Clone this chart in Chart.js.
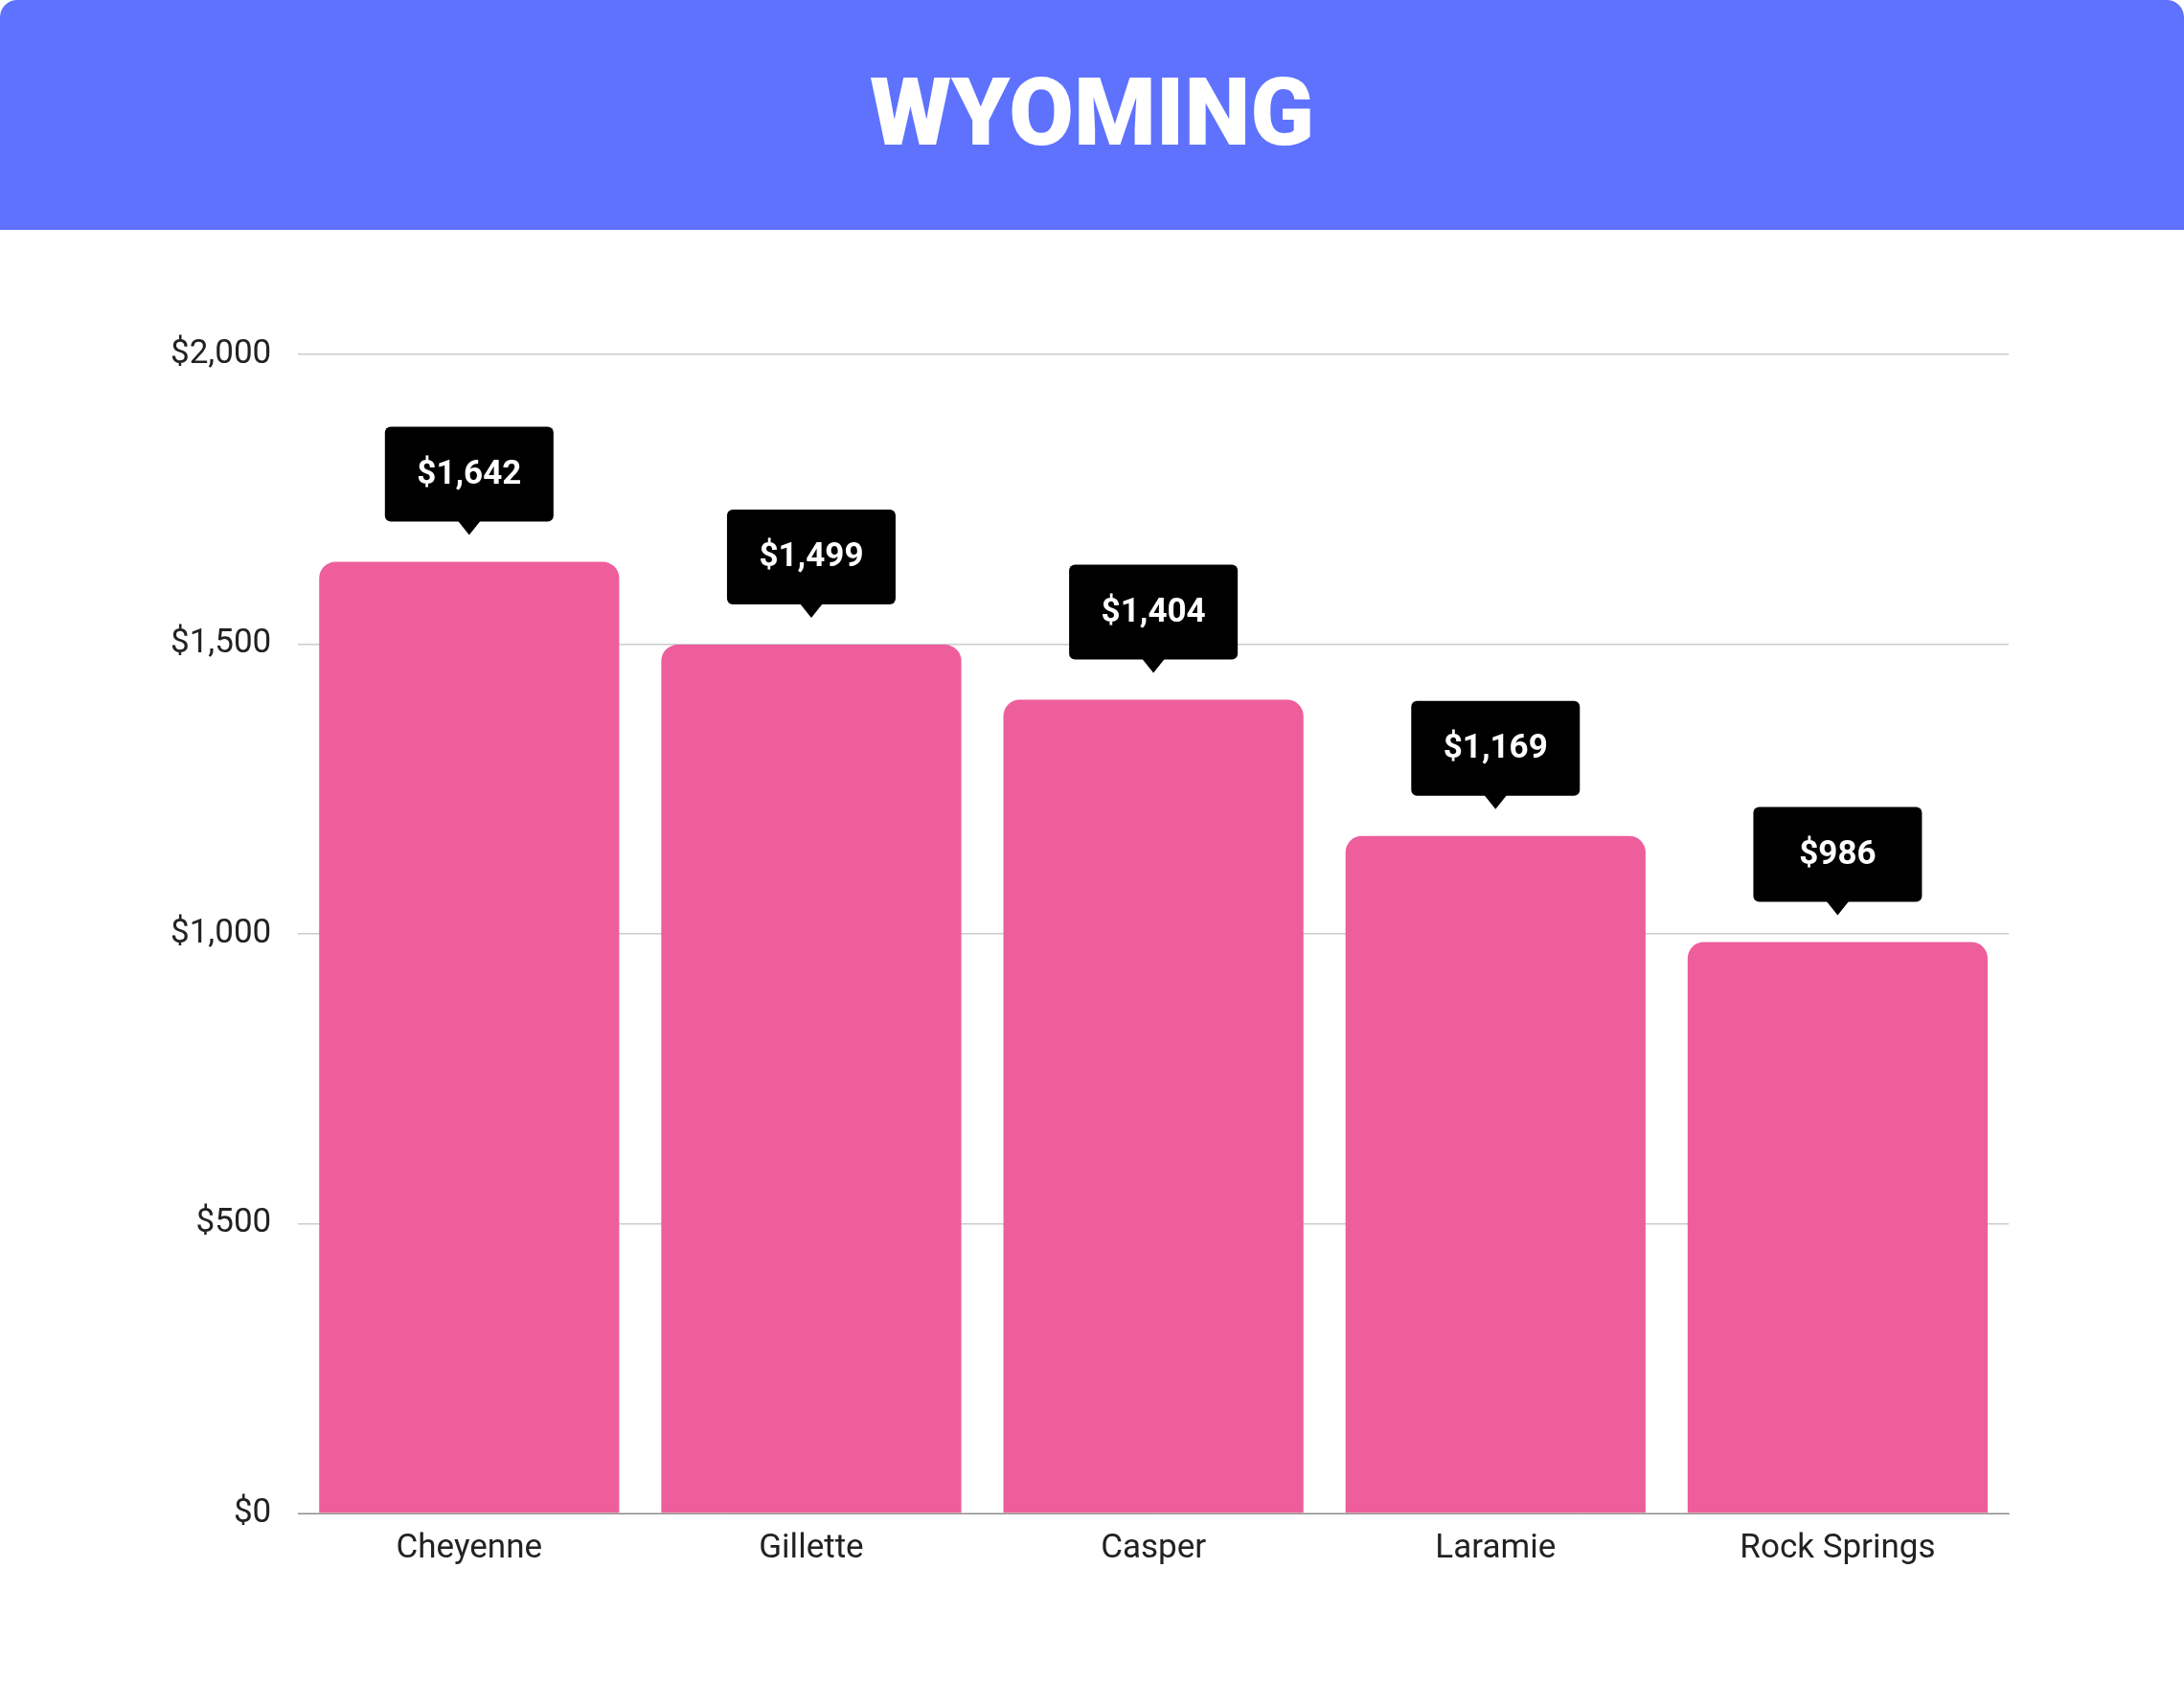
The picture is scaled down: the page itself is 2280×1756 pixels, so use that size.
<!DOCTYPE html>
<html><head><meta charset="utf-8">
<script src="https://cdn.jsdelivr.net/npm/chart.js@4"></script>
<style>
html,body{margin:0;padding:0;background:#fff;width:2280px;height:1756px;overflow:hidden;font-family:Roboto,sans-serif}
#hdr{position:absolute;left:0;top:0;width:2280px;height:240px;background:#5e72fe;border-radius:18px 18px 0 0;color:#fff;font-weight:900;font-size:98px;text-align:center;line-height:236px}
#wrap{position:absolute;left:0;top:240px;width:2280px;height:1516px}
#c{display:block;width:2280px;height:1516px}
</style></head><body>
<div id="hdr">WYOMING</div>
<div id="wrap"><canvas id="c" width="2280" height="1516"></canvas></div>
<script>
const categories=["Cheyenne","Gillette","Casper","Laramie","Rock Springs"];
const values=[1642,1499,1404,1169,986];
const tickValues=[0,500,1000,1500,2000];
const fmt=v=>"$"+v.toLocaleString("en-US");
const labelPlugin={id:"lbl",afterDatasetsDraw(ch){
  const ctx=ch.ctx,meta=ch.getDatasetMeta(0);
  ctx.save();
  meta.data.forEach((b,i)=>{
    const w=176,h=99,x=b.x,bot=b.y-42,top=bot-h;
    ctx.fillStyle="#000";
    ctx.beginPath();ctx.roundRect(x-w/2,top,w,h,6);ctx.fill();
    ctx.beginPath();ctx.moveTo(x-12,bot-1);ctx.lineTo(x,bot+14);ctx.lineTo(x+12,bot-1);ctx.fill();
    ctx.fillStyle="#fff";ctx.font="bold 35px Roboto";ctx.textAlign="center";ctx.textBaseline="middle";
    ctx.fillText(fmt(values[i]),x,top+h/2+1);
  });
  ctx.restore();}};
new Chart(document.getElementById("c"),{type:"bar",
 data:{labels:categories,datasets:[{data:values,backgroundColor:"#ee5e9b",borderRadius:{topLeft:17,topRight:17},borderSkipped:"bottom",barPercentage:0.877,categoryPercentage:1}]},
 options:{responsive:false,animation:false,devicePixelRatio:1,
  layout:{padding:{left:150,right:183,top:130,bottom:110}},
  plugins:{legend:{display:false},tooltip:{enabled:false}},
  scales:{
   x:{grid:{display:false},border:{color:"#888"},ticks:{color:"#222",font:{size:35,family:"Roboto"},padding:8}},
   y:{min:0,max:2000,afterBuildTicks:a=>{a.ticks=tickValues.map(v=>({value:v}))},
      grid:{color:"#ccc",lineWidth:1.5,drawTicks:false},border:{display:false},
      ticks:{color:"#222",font:{size:35,family:"Roboto"},padding:28,callback:v=>fmt(v)}}}},
 plugins:[labelPlugin]});
</script>
</body></html>
